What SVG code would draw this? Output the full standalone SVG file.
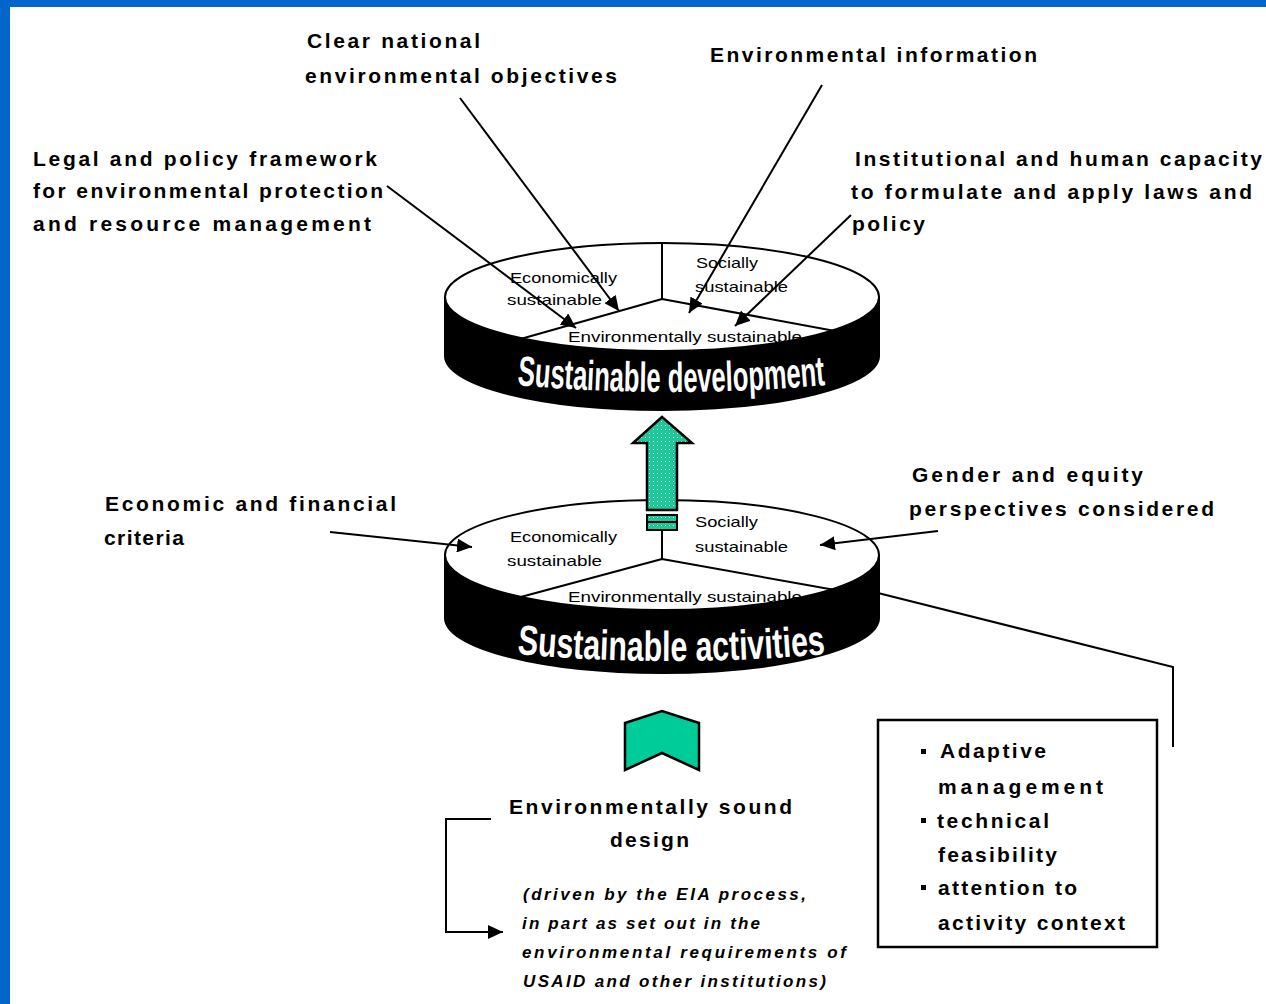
<svg xmlns="http://www.w3.org/2000/svg" width="1266" height="1004" viewBox="0 0 1266 1004">
<defs>
<style>
.lbl{font-family:"Liberation Sans",Arial,sans-serif;font-weight:bold;font-size:21px;fill:#000}
.dt{font-family:"Liberation Sans",Arial,sans-serif;font-size:15px;fill:#000}
.big{font-family:"Liberation Sans",Arial,sans-serif;font-weight:bold;font-size:42px;fill:#fff}
.it{font-family:"Liberation Sans",Arial,sans-serif;font-weight:bold;font-style:italic;font-size:17px;fill:#000}
.ln{fill:none;stroke:#000;stroke-width:2}
.face{fill:#fff;stroke:#000;stroke-width:2}
.body{fill:#000;stroke:#000;stroke-width:2}
</style>
<marker id="ah" markerUnits="userSpaceOnUse" markerWidth="16" markerHeight="14" refX="15" refY="7" orient="auto">
<path d="M0,0 L15,7 L0,14 z" fill="#000"/>
</marker>
<pattern id="dots" width="4" height="4" patternUnits="userSpaceOnUse">
<rect width="4" height="4" fill="#1DC89A"/>
<rect x="1" y="1" width="1" height="1" fill="#fff"/>
</pattern>
<path id="arc1" d="M517,385 Q671,399 826,385"/>
<path id="arc2" d="M517,654 Q671,668 826,654"/>
</defs>
<rect width="1266" height="1004" fill="#fff"/>
<rect x="0" y="0" width="1266" height="7" fill="#0066CC"/>
<rect x="0" y="0" width="10" height="1004" fill="#0066CC"/>

<g id="disc-top">
<path class="body" d="M445,297 L445,356 A217,54 0 0 0 879,356 L879,297 Z"/>
<ellipse class="face" cx="662" cy="297" rx="217" ry="54"/>
<path class="ln" d="M662,243 L662,299 M662,299 L517,340 M662,299 L835,331"/>
<text class="dt" x="510" y="283" textLength="107" lengthAdjust="spacingAndGlyphs">Economically</text>
<text class="dt" x="507" y="305" textLength="95" lengthAdjust="spacingAndGlyphs">sustainable</text>
<text class="dt" x="696" y="268" textLength="62" lengthAdjust="spacingAndGlyphs">Socially</text>
<text class="dt" x="695" y="292" textLength="93" lengthAdjust="spacingAndGlyphs">sustainable</text>
<text class="dt" x="568" y="342" textLength="234" lengthAdjust="spacingAndGlyphs">Environmentally sustainable</text>
<text class="big"><textPath href="#arc1" textLength="309" lengthAdjust="spacingAndGlyphs">Sustainable development</textPath></text>
</g>

<g id="disc-bottom">
<path class="body" d="M445,555 L445,618 A217,55 0 0 0 879,618 L879,555 Z"/>
<ellipse class="face" cx="662" cy="555" rx="217" ry="55"/>
<path class="ln" d="M662,530 L662,559 M662,559 L517,598 M662,559 L835,590"/>
<text class="dt" x="510" y="542" textLength="107" lengthAdjust="spacingAndGlyphs">Economically</text>
<text class="dt" x="507" y="566" textLength="95" lengthAdjust="spacingAndGlyphs">sustainable</text>
<text class="dt" x="695" y="527" textLength="63" lengthAdjust="spacingAndGlyphs">Socially</text>
<text class="dt" x="695" y="552" textLength="93" lengthAdjust="spacingAndGlyphs">sustainable</text>
<text class="dt" x="568" y="602" textLength="234" lengthAdjust="spacingAndGlyphs">Environmentally sustainable</text>
<text class="big"><textPath href="#arc2" textLength="309" lengthAdjust="spacingAndGlyphs">Sustainable activities</textPath></text>
</g>

<g id="up-arrow">
<polygon points="662,417 692,443 677,443 677,510 647,510 647,443 633,443" fill="url(#dots)" stroke="#000" stroke-width="2.5"/>
<rect x="647" y="515" width="30" height="15" fill="url(#dots)" stroke="#000" stroke-width="2"/>
<line x1="647" y1="522" x2="677" y2="522" stroke="#000" stroke-width="2"/>
</g>

<g id="chevron">
<polygon points="625,723 662,711 699,723 699,770 662,753 625,770" fill="#00CC99" stroke="#000" stroke-width="2.5"/>
</g>

<g id="label-legal">
<text class="lbl" x="33" y="166" textLength="344" lengthAdjust="spacing">Legal and policy framework</text>
<text class="lbl" x="33" y="198" textLength="350" lengthAdjust="spacing">for environmental protection</text>
<text class="lbl" x="33" y="231" textLength="338" lengthAdjust="spacing">and resource management</text>
</g>
<g id="label-clear">
<text class="lbl" x="307" y="48" textLength="173" lengthAdjust="spacing">Clear national</text>
<text class="lbl" x="305" y="83" textLength="312" lengthAdjust="spacing">environmental objectives</text>
</g>
<g id="label-envinfo">
<text class="lbl" x="710" y="62" textLength="327" lengthAdjust="spacing">Environmental information</text>
</g>
<g id="label-inst">
<text class="lbl" x="855" y="166" textLength="407" lengthAdjust="spacing">Institutional and human capacity</text>
<text class="lbl" x="851" y="199" textLength="401" lengthAdjust="spacing">to formulate and apply laws and</text>
<text class="lbl" x="852" y="231" textLength="73" lengthAdjust="spacing">policy</text>
</g>
<g id="label-econ">
<text class="lbl" x="105" y="511" textLength="291" lengthAdjust="spacing">Economic and financial</text>
<text class="lbl" x="104" y="545" textLength="80" lengthAdjust="spacing">criteria</text>
</g>
<g id="label-gender">
<text class="lbl" x="912" y="482" textLength="231" lengthAdjust="spacing">Gender and equity</text>
<text class="lbl" x="909" y="516" textLength="305" lengthAdjust="spacing">perspectives considered</text>
</g>
<g id="label-design">
<text class="lbl" x="509" y="814" textLength="283" lengthAdjust="spacing">Environmentally sound</text>
<text class="lbl" x="610" y="847" textLength="79" lengthAdjust="spacing">design</text>
<text class="it" x="523" y="900" textLength="283" lengthAdjust="spacing">(driven by the EIA process,</text>
<text class="it" x="522" y="929" textLength="238" lengthAdjust="spacing">in part as set out in the</text>
<text class="it" x="522" y="958" textLength="324" lengthAdjust="spacing">environmental requirements of</text>
<text class="it" x="523" y="987" textLength="303" lengthAdjust="spacing">USAID and other institutions)</text>
</g>
<g id="box-adaptive">
<rect x="878" y="720" width="279" height="227" fill="#fff" stroke="#000" stroke-width="2.5"/>
<rect x="921" y="749" width="5" height="5" fill="#000"/>
<rect x="921" y="818" width="5" height="5" fill="#000"/>
<rect x="921" y="885" width="5" height="5" fill="#000"/>
<text class="lbl" x="940" y="758" textLength="106" lengthAdjust="spacing">Adaptive</text>
<text class="lbl" x="938" y="794" textLength="165" lengthAdjust="spacing">management</text>
<text class="lbl" x="937" y="828" textLength="112" lengthAdjust="spacing">technical</text>
<text class="lbl" x="938" y="862" textLength="119" lengthAdjust="spacing">feasibility</text>
<text class="lbl" x="938" y="895" textLength="139" lengthAdjust="spacing">attention to</text>
<text class="lbl" x="938" y="930" textLength="187" lengthAdjust="spacing">activity context</text>
</g>

<g id="connectors">
<line class="ln" x1="387" y1="186" x2="576" y2="328" marker-end="url(#ah)"/>
<line class="ln" x1="460" y1="98" x2="619" y2="311" marker-end="url(#ah)"/>
<line class="ln" x1="822" y1="85" x2="689" y2="313" marker-end="url(#ah)"/>
<line class="ln" x1="851" y1="215" x2="735" y2="326" marker-end="url(#ah)"/>
<line class="ln" x1="330" y1="532" x2="472" y2="547" marker-end="url(#ah)"/>
<line class="ln" x1="938" y1="531" x2="820" y2="545" marker-end="url(#ah)"/>
<polyline class="ln" points="878,593 1173,667 1173,747"/>
<polyline class="ln" points="491,819 446,819 446,932 503,932" stroke-width="2.5" marker-end="url(#ah)"/>
</g>
</svg>
